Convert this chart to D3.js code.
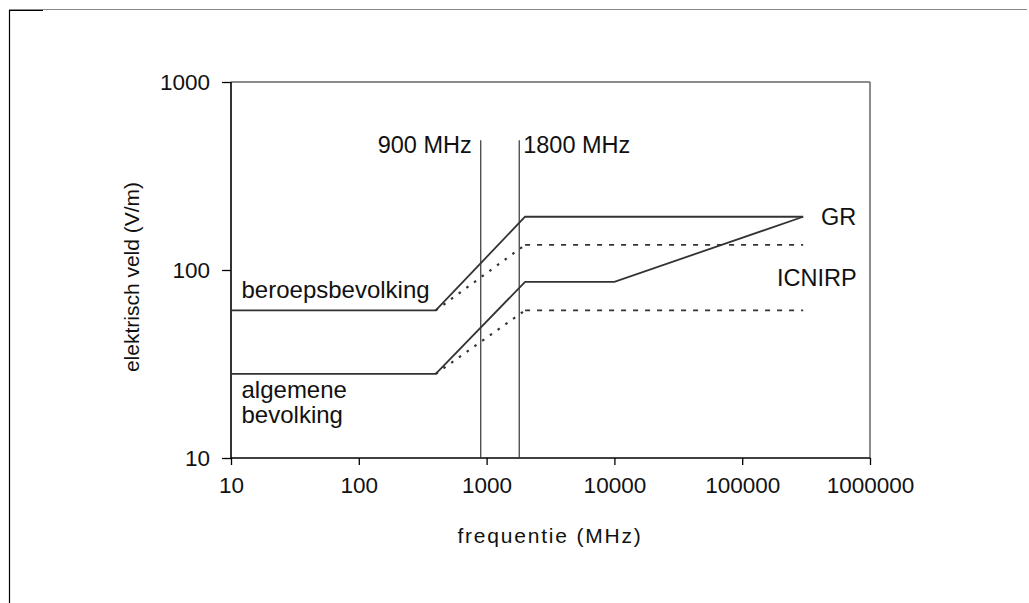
<!DOCTYPE html>
<html><head><meta charset="utf-8">
<script src="https://cdn.jsdelivr.net/npm/d3@7"></script>
<style>body{margin:0;background:#fff}svg{display:block}text{font-family:"Liberation Sans",Arial,sans-serif;fill:#111}</style>
</head><body>
<svg id="c" width="1029" height="603"></svg>
<script>
// Data
const xTicks = [10, 100, 1000, 10000, 100000, 1000000];
const yTicks = [10, 100, 1000];
const grBeroepsFreq = [10, 400, 2000, 300000];
const grBeroepsVal = [61, 61, 192, 192];
const grAlgemeenFreq = [10, 400, 2000, 10000, 300000];
const grAlgemeenVal = [28, 28, 86.5, 86.5, 192];
const icnirpBeroepsFreq = [400, 2000, 300000];
const icnirpBeroepsVal = [61, 136, 136];
const icnirpAlgemeenFreq = [400, 2000, 300000];
const icnirpAlgemeenVal = [28, 61, 61];
const markerFreqs = [900, 1800];
const markerLabels = ["900 MHz", "1800 MHz"];
const markerTop = 490;

const svg = d3.select("#c");
const x = d3.scaleLog().domain([10, 1000000]).range([231, 870]);
const y = d3.scaleLog().domain([10, 1000]).range([458, 82]);

// outer frame
svg.append("line").attr("x1", 9).attr("x2", 1027).attr("y1", 9.5).attr("y2", 9.5).attr("stroke", "#888").attr("stroke-width", 1.2);
svg.append("line").attr("x1", 9).attr("x2", 43).attr("y1", 10.5).attr("y2", 10.5).attr("stroke", "#000").attr("stroke-width", 1.2);
svg.append("line").attr("x1", 9.5).attr("x2", 9.5).attr("y1", 10).attr("y2", 603).attr("stroke", "#000").attr("stroke-width", 1.2);

// plot frame (top/right grey)
svg.append("line").attr("x1", x(10)).attr("x2", x(1e6)).attr("y1", y(1000)).attr("y2", y(1000)).attr("stroke", "#666").attr("stroke-width", 1.5);
svg.append("line").attr("x1", x(1e6)).attr("x2", x(1e6)).attr("y1", y(1000)).attr("y2", y(10)).attr("stroke", "#666").attr("stroke-width", 1.5);

// axes
const fmt = d => String(d);
const xAxis = d3.axisBottom(x).tickValues(xTicks).tickFormat(fmt).tickSize(7).tickPadding(12);
const yAxis = d3.axisLeft(y).tickValues(yTicks).tickFormat(fmt).tickSize(9).tickPadding(12);
const gx = svg.append("g").attr("transform", `translate(0,${y(10)})`).call(xAxis);
const gy = svg.append("g").attr("transform", `translate(${x(10)},0)`).call(yAxis);
[gx, gy].forEach(g => {
  g.select(".domain").attr("stroke", "#000").attr("stroke-width", 1.6);
  g.selectAll(".tick line").attr("stroke", "#000").attr("stroke-width", 1.3);
  g.selectAll(".tick text").attr("font-size", 22.5).attr("font-family", "Liberation Sans, Arial, sans-serif").attr("fill", "#111");
});
gx.select(".domain").attr("d", `M${x(10)},0H${x(1e6)}`);
gy.select(".domain").attr("d", `M0,${y(10)}V${y(1000)}`);

// marker lines
markerFreqs.forEach((f, i) => {
  svg.append("line").attr("x1", x(f)).attr("x2", x(f)).attr("y1", y(10)).attr("y2", y(markerTop))
    .attr("stroke", "#333").attr("stroke-width", 1.2);
});
svg.append("text").attr("x", x(markerFreqs[0]) - 9).attr("y", 153).attr("text-anchor", "end").attr("font-size", 23.5).text(markerLabels[0]);
svg.append("text").attr("x", x(markerFreqs[1]) + 4).attr("y", 153).attr("font-size", 23.5).text(markerLabels[1]);

const line = d3.line().x(d => x(d[0])).y(d => y(d[1]));
const zip = (a, b) => a.map((v, i) => [v, b[i]]);

// ICNIRP dashed
[[icnirpBeroepsFreq, icnirpBeroepsVal], [icnirpAlgemeenFreq, icnirpAlgemeenVal]].forEach(([f, v]) => {
  const pts = zip(f, v);
  svg.append("path").attr("d", line(pts.slice(0, 2))).attr("fill", "none").attr("stroke", "#333").attr("stroke-width", 2.2).attr("stroke-dasharray", "2.5,7");
  svg.append("path").attr("d", line(pts.slice(1))).attr("fill", "none").attr("stroke", "#333").attr("stroke-width", 1.8).attr("stroke-dasharray", "5,7");
});
// GR solid
[[grBeroepsFreq, grBeroepsVal], [grAlgemeenFreq, grAlgemeenVal]].forEach(([f, v]) => {
  svg.append("path").attr("d", line(zip(f, v))).attr("fill", "none").attr("stroke", "#333").attr("stroke-width", 1.8);
});

// annotations
svg.append("text").attr("x", 241.5).attr("y", 298).attr("font-size", 24).text("beroepsbevolking");
svg.append("text").attr("x", 241.5).attr("y", 398).attr("font-size", 24).text("algemene");
svg.append("text").attr("x", 241.5).attr("y", 423).attr("font-size", 24).text("bevolking");
svg.append("text").attr("x", 821).attr("y", 225).attr("font-size", 23.5).text("GR");
svg.append("text").attr("x", 777).attr("y", 286).attr("font-size", 23.5).text("ICNIRP");

// axis titles
svg.append("text").attr("x", 550).attr("y", 543).attr("text-anchor", "middle").attr("font-size", 21).attr("letter-spacing", 1.8).text("frequentie (MHz)");
svg.append("text").attr("transform", "translate(139,277) rotate(-90)").attr("text-anchor", "middle").attr("font-size", 21).text("elektrisch veld (V/m)");
</script>
</body></html>
